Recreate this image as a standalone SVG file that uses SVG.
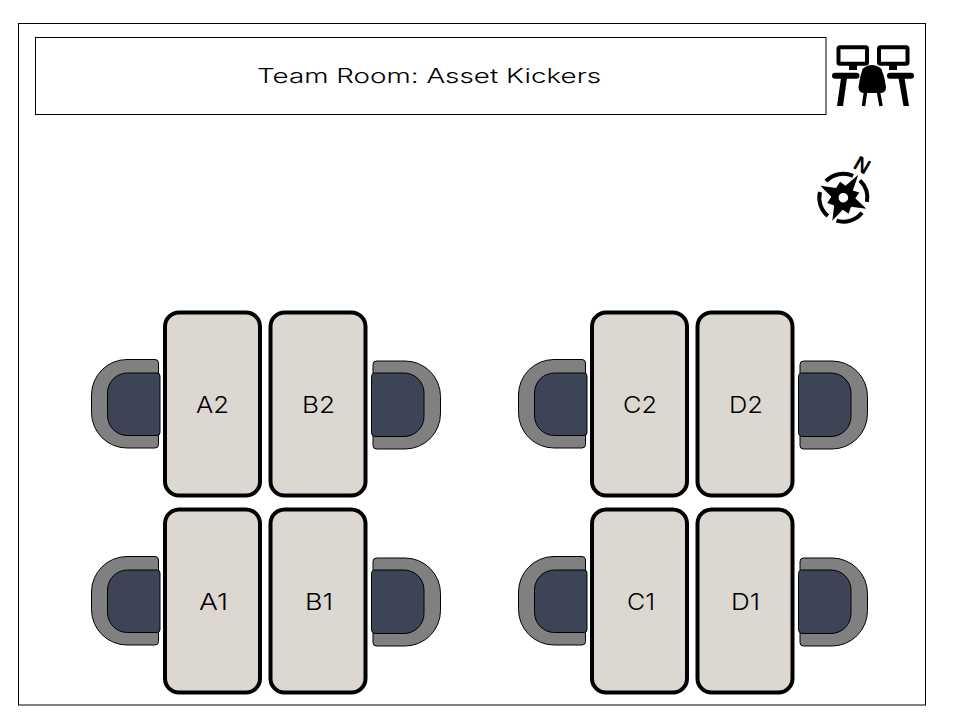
<svg xmlns="http://www.w3.org/2000/svg" xmlns:xlink="http://www.w3.org/1999/xlink" width="960" height="720" viewBox="0 0 960 720">
<style>
.frame{fill:#fff;stroke:#000;stroke-width:1}
.desk{fill:#dcd8d1;stroke:#000;stroke-width:4}
.back{fill:#808080;stroke:#000;stroke-width:1}
.seat{fill:#3d4455;stroke:#000;stroke-width:1}
text{font-family:Inter,"Liberation Sans",Arial,sans-serif;fill:#000;font-weight:350}
.lbl{font-size:23px;text-anchor:middle}
.title{font-size:20px}
.north{font-family:"Liberation Sans",Arial,sans-serif;font-size:21px;font-weight:bold;text-anchor:middle}
.mon{fill:none;stroke:#000;stroke-width:4}
</style>
<defs>
<g id="chairL">
<path class="back" d="M155 359.500H127A35.500 35.500 0 0 0 91.500 395V412.500A35.500 35.500 0 0 0 127 448H155Q158.500 448 158.500 444.500V363Q158.500 359.500 155 359.500Z"/>
<path class="seat" d="M157 373H127.500A20 20 0 0 0 107.500 393V415.500A20 20 0 0 0 127.500 435.500H157Q160 435.500 160 432.500V376Q160 373 157 373Z"/>
</g>
<g id="chairR">
<path class="back" d="M376.500 361H405A35.500 35.500 0 0 1 440.500 396.500V413.500A35.500 35.500 0 0 1 405 449H376.500Q373 449 373 445.500V364.500Q373 361 376.500 361Z"/>
<path class="seat" d="M374.500 373H404A20 20 0 0 1 424 393V416.500A20 20 0 0 1 404 436.500H376Q371.500 436.500 371.500 432V377.500Q371.500 373 374.500 373Z"/>
</g>
</defs>
<rect class="frame" x="18.500" y="23.500" width="907" height="681.500"/>
<g id="title">
<rect class="frame" x="35.500" y="37.500" width="790.500" height="77"/>
<text class="title" x="257" y="83" textLength="344" lengthAdjust="spacingAndGlyphs">Team Room: Asset Kickers</text>
</g>
<g id="icon-workspace">
<rect class="mon" x="838.500" y="47.300" width="28.500" height="16.500" rx="1.500"/>
<rect class="mon" x="879" y="47.300" width="28.500" height="16.500" rx="1.500"/>
<rect x="849" y="65" width="8" height="5" fill="#000"/>
<rect x="889" y="65" width="8" height="5" fill="#000"/>
<path d="M835 75.700H856.500M890 75.700H911" stroke="#000" stroke-width="6" stroke-linecap="round" fill="none"/>
<path d="M841 78H847L843 106H837ZM898.500 78H904.500L909 106H903.500Z" fill="#000"/>
<path d="M865.500 92L863.500 106M878.500 92L881 106" stroke="#000" stroke-width="3.500" fill="none"/>
<path d="M862.500 69Q872 61 881.500 69Q885 78 886 87Q886 93 880 93H864.500Q858.500 93 858.500 87Q859.500 78 862.500 69Z" fill="#000"/>
</g>
<g id="icon-compass">
<path d="M825.900 181.200A24 24 0 0 1 853.100 175.800M859.900 180.400A24 24 0 0 1 866.900 201.800M862 212.700A24 24 0 0 1 836.500 220.700M827.800 216A24 24 0 0 1 820 192" fill="none" stroke="#000" stroke-width="4"/>
<path fill-rule="evenodd" d="M858.300 174.700L845.500 185.800L840.100 181.700L836.100 188.100L820.300 185.700L831.300 196.700L827.300 203L834.200 205.400L832.300 220.700L842.700 209.700L848.600 213.700L851 206.800L866.300 208.700L855.300 198.300L859.300 192.400L852.800 190.400ZM843.300 192.900A4.800 4.800 0 1 0 843.400 202.500A4.800 4.800 0 1 0 843.300 192.900Z" fill="#000"/>
<text class="north" transform="translate(862.300 164.700) rotate(30)" x="0" y="7.500">N</text>
</g>
<g id="A2"><use xlink:href="#chairL" href="#chairL"/><rect class="desk" x="165" y="312.500" width="95" height="183" rx="14"/><text class="lbl" x="212.500" y="412.500" textLength="33" lengthAdjust="spacingAndGlyphs">A2</text></g>
<g id="B2"><use xlink:href="#chairR" href="#chairR"/><rect class="desk" x="270.500" y="312.500" width="95" height="183" rx="14"/><text class="lbl" x="318.500" y="412.500" textLength="33" lengthAdjust="spacingAndGlyphs">B2</text></g>
<g id="A1"><use xlink:href="#chairL" href="#chairL" y="197"/><rect class="desk" x="165" y="509.500" width="95" height="183" rx="14"/><text class="lbl" x="213.500" y="609.500" textLength="29" lengthAdjust="spacingAndGlyphs">A1</text></g>
<g id="B1"><use xlink:href="#chairR" href="#chairR" y="197"/><rect class="desk" x="270.500" y="509.500" width="95" height="183" rx="14"/><text class="lbl" x="319" y="609.500" textLength="28" lengthAdjust="spacingAndGlyphs">B1</text></g>
<g id="C2"><use xlink:href="#chairL" href="#chairL" x="427"/><rect class="desk" x="592" y="312.500" width="95" height="183" rx="14"/><text class="lbl" x="640" y="412.500" textLength="34" lengthAdjust="spacingAndGlyphs">C2</text></g>
<g id="D2"><use xlink:href="#chairR" href="#chairR" x="427"/><rect class="desk" x="697.500" y="312.500" width="95" height="183" rx="14"/><text class="lbl" x="746" y="412.500" textLength="34" lengthAdjust="spacingAndGlyphs">D2</text></g>
<g id="C1"><use xlink:href="#chairL" href="#chairL" x="427" y="197"/><rect class="desk" x="592" y="509.500" width="95" height="183" rx="14"/><text class="lbl" x="641" y="609.500" textLength="28" lengthAdjust="spacingAndGlyphs">C1</text></g>
<g id="D1"><use xlink:href="#chairR" href="#chairR" x="427" y="197"/><rect class="desk" x="697.500" y="509.500" width="95" height="183" rx="14"/><text class="lbl" x="745.500" y="609.500" textLength="29" lengthAdjust="spacingAndGlyphs">D1</text></g>
</svg>
